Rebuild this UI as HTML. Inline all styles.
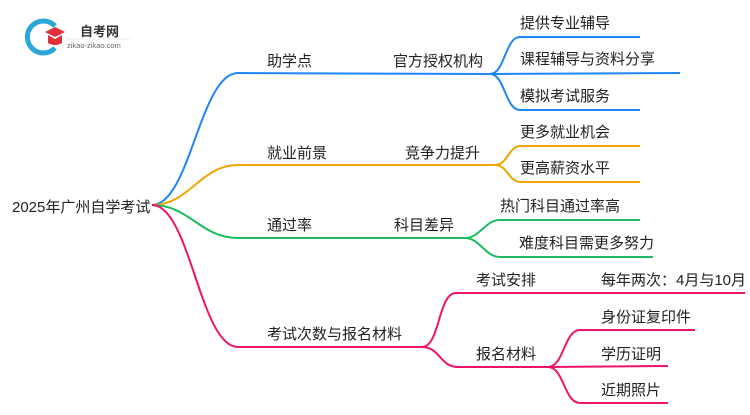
<!DOCTYPE html>
<html><head><meta charset="utf-8"><style>
body{margin:0;background:#fff;}
text{font-family:"Liberation Sans","Noto Sans CJK SC",sans-serif;font-size:15px;fill:#222;}
</style></head><body>
<svg width="750" height="410" viewBox="0 0 750 410" xmlns="http://www.w3.org/2000/svg">
<path d="M55 26 A16 16 0 1 0 55 48" fill="none" stroke="#2aa6d8" stroke-width="5"/>
<path d="M45 32 L55 27 L65 32 L55 37 Z" fill="#e0303a"/>
<path d="M48 35 L48 43 Q55 47 62 43 L62 35 L55 39 Z" fill="#e0303a"/>
<text x="80" y="36" style="font-size:13px;font-weight:bold;fill:#333">自考网</text>
<text x="67" y="48" style="font-size:7.5px;fill:#666">zikao-zikao.com</text>
<line x1="67" y1="39" x2="130" y2="39" stroke="#ddd" stroke-width="0.6"/>

<text x="12" y="212">2025年广州自学考试</text>

<g fill="none" stroke-width="2">
<path d="M152 205 C190 205 200 73 238 73 L490 74" stroke="#1f87f5"/>
<path d="M490 74 C505 74 505 37 520 37 L640 37" stroke="#1f87f5"/>
<path d="M490 74 L680 73" stroke="#1f87f5"/>
<path d="M490 74 C505 74 505 110 520 110 L640 110" stroke="#1f87f5"/>
<path d="M152 205 C190 205 200 165 238 165 L495 165" stroke="#f0a400"/>
<path d="M495 165 C508 165 508 146 521 146 L640 146" stroke="#f0a400"/>
<path d="M495 165 C508 165 508 182 521 182 L640 182" stroke="#f0a400"/>
<path d="M152 205 C190 205 200 238 238 238 L465 238" stroke="#1dbb62"/>
<path d="M465 238 C480 238 485 220 500 220 L640 220" stroke="#1dbb62"/>
<path d="M465 238 C480 238 485 257 500 257 L653 257" stroke="#1dbb62"/>
<path d="M152 205 C190 205 200 347 238 347 L422 347" stroke="#f0136a"/>
<path d="M422 347 C440 347 438 293 456 293 L745 293" stroke="#f0136a"/>
<path d="M422 347 C440 347 440 367 458 367 L548 367" stroke="#f0136a"/>
<path d="M548 367 C564 367 564 330 580 330 L695 330" stroke="#f0136a"/>
<path d="M548 367 L668 366" stroke="#f0136a"/>
<path d="M548 367 C564 367 564 403 580 403 L668 403" stroke="#f0136a"/>
</g>

<text x="267" y="66">助学点</text>
<text x="393" y="66">官方授权机构</text>
<text x="520" y="28">提供专业辅导</text>
<text x="520" y="64">课程辅导与资料分享</text>
<text x="520" y="101">模拟考试服务</text>

<text x="267" y="158">就业前景</text>
<text x="405" y="158">竞争力提升</text>
<text x="520" y="137">更多就业机会</text>
<text x="520" y="173">更高薪资水平</text>

<text x="267" y="230">通过率</text>
<text x="394" y="230">科目差异</text>
<text x="500" y="211">热门科目通过率高</text>
<text x="519" y="248">难度科目需更多努力</text>

<text x="267" y="339">考试次数与报名材料</text>
<text x="476" y="285">考试安排</text>
<text x="601" y="285">每年两次：4月与10月</text>
<text x="476" y="359">报名材料</text>
<text x="601" y="322">身份证复印件</text>
<text x="601" y="359">学历证明</text>
<text x="601" y="395">近期照片</text>
</svg>
</body></html>
